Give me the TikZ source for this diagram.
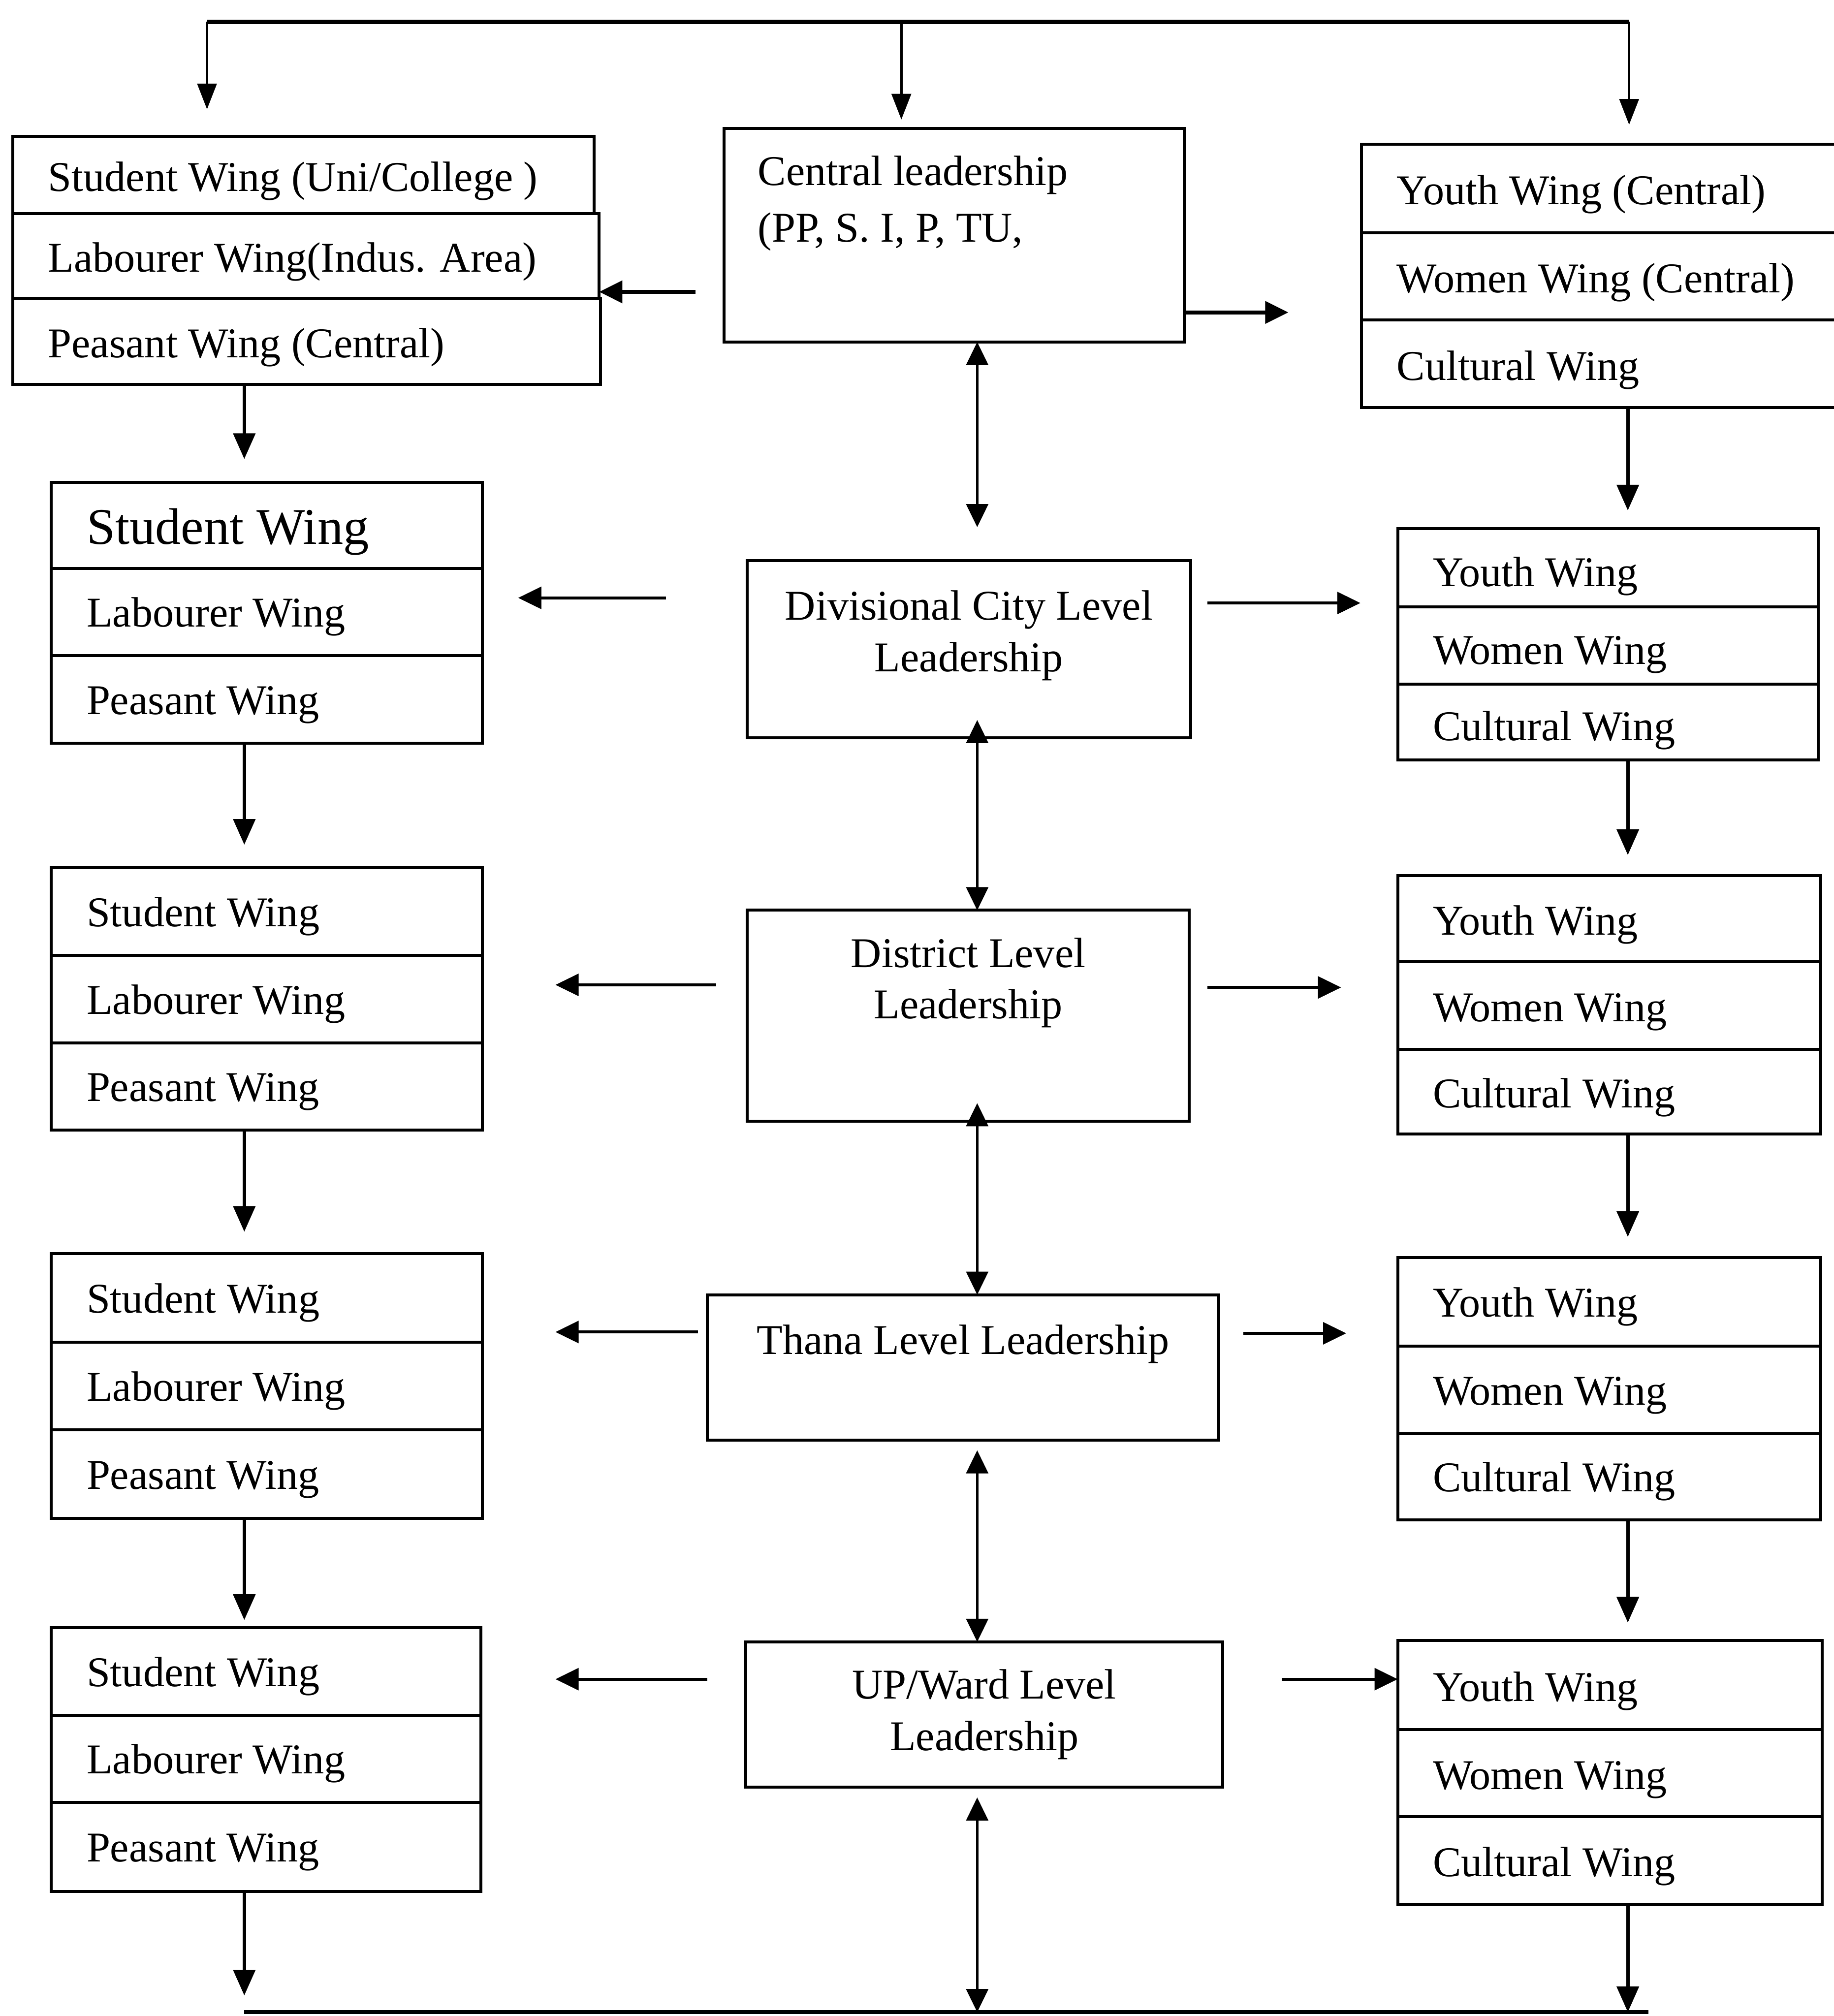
\documentclass[tikz,border=0pt]{standalone}
\usepackage{fontspec}
\setmainfont{Liberation Serif}
\usetikzlibrary{arrows.meta}
\tikzset{
  boxline/.style={draw, line width=1.15pt, inner sep=0pt, outer sep=0pt, anchor=north west},
  rtext/.style={font=\fontsize{16.5}{22}\selectfont, inner sep=0pt, text height=0.66em, text depth=0pt, anchor=west},
  ctext/.style={font=\fontsize{16.5}{20}\selectfont, inner sep=0pt, align=center, anchor=north},
  tip/.style={},
  arr/.style={line width=1.3pt, -{Triangle[length=10pt,width=8.5pt]}},
  tarr/.style={line width=1pt, -{Triangle[length=10pt,width=7.5pt]}},
  harr/.style={line width=1.1pt, -{Triangle[length=9pt,width=8.5pt]}},
  darr/.style={line width=1pt, {Triangle[length=9pt,width=8.5pt]}-{Triangle[length=9pt,width=8.5pt]}},
  thickline/.style={line width=1.6pt},
}
\newcommand\wrow[7][-2.5pt]{%
  \node[boxline, minimum width=(#5-#3)*0.5pt, minimum height=(#6-#4)*0.5pt] (#2) at (#3,#4) {};
  \node[rtext] (#2t) at ([xshift=13.5pt,yshift=#1]#2.west) {#7};
}
\newcommand\cbox[5]{%
  \node[boxline, minimum width=(#4-#2)*0.5pt, minimum height=(#5-#3)*0.5pt] (#1) at (#2,#3) {};
}
\begin{document}
\begin{tikzpicture}[x=0.5pt,y=-0.5pt]
\useasboundingbox (0,0) rectangle (1426,1568);

% ---------- top distribution line ----------
\coordinate (t1) at (161,17);
\coordinate (t2) at (701,17);
\coordinate (t3) at (1267,17);
\coordinate (t1e) at (161,85);
\coordinate (t2e) at (701,93);
\coordinate (t3e) at (1267,97);
\draw[thickline] (t1) -- (t3);
\draw[tarr] (t1) -- (t1e);
\draw[tarr] (t2) -- (t2e);
\draw[tarr] (t3) -- (t3e);

% ---------- level 0 ----------
\wrow[-3pt]{sw0}{10}{106}{462}{166}{Student Wing (Uni/College )}
\wrow[-3pt]{lw0}{10}{166}{466}{232}{Labourer Wing(Indus. Area)}
\wrow[-3pt]{pw0}{10}{232}{467}{299}{Peasant Wing (Central)}

\cbox{cl}{563}{100}{921}{266}
\node[font=\fontsize{16.5}{22}\selectfont, inner sep=0pt, align=left, anchor=north west]
  (clt) at ([xshift=13pt,yshift=-10.5pt]cl.north west) {Central leadership\\(PP, S. I, P, TU,};

\wrow[-3pt]{yw0}{1059}{112}{1440}{181}{Youth Wing (Central)}
\wrow[-3pt]{ww0}{1059}{181}{1440}{249}{Women Wing (Central)}
\wrow[-3pt]{cw0}{1059}{249}{1440}{317}{Cultural Wing}

\coordinate (clL) at (541,227);
\draw[harr, line width=1.5pt] (clL) -- (lw0.east |- clL);
\coordinate (clR) at (1002,243);
\draw[harr, line width=1.5pt] (cl.east |- clR) -- (clR);

\coordinate (d1) at (760,410);
\draw[darr] (cl.south -| d1) -- (d1);
\coordinate (la1) at (190,357);
\draw[arr] (pw0.south -| la1) -- (la1);
\coordinate (ra1) at (1266,397);
\draw[arr] (cw0.south -| ra1) -- (ra1);

% ---------- level 1 : divisional ----------
\node[boxline, minimum width=335*0.5pt, minimum height=67*0.5pt] (sw1) at (40,375) {};
\node[rtext, font=\fontsize{20}{24}\selectfont] (sw1t) at ([xshift=13.5pt,yshift=-4pt]sw1.west) {Student Wing};
\wrow{lw1}{40}{442}{375}{510}{Labourer Wing}
\wrow{pw1}{40}{510}{375}{578}{Peasant Wing}

\cbox{div}{581}{436}{926}{574}
\node[ctext] (divt) at ([yshift=-11.5pt]div.north) {Divisional City Level\\Leadership};

\wrow[-4pt]{yw1}{1087}{411}{1414}{472}{Youth Wing}
\wrow[-4pt]{ww1}{1087}{472}{1414}{532}{Women Wing}
\wrow[-4pt]{cw1}{1087}{532}{1414}{591}{Cultural Wing}

\coordinate (dvL1) at (518,465); \coordinate (dvL2) at (403,465);
\draw[harr] (dvL1) -- (dvL2);
\coordinate (dvR1) at (939,469); \coordinate (dvR2) at (1058,469);
\draw[harr] (dvR1) -- (dvR2);

\coordinate (d2) at (760,560);
\coordinate (la2) at (190,657);
\coordinate (ra2) at (1266,665);
\draw[arr] (pw1.south -| la2) -- (la2);
\draw[arr] (cw1.south -| ra2) -- (ra2);

% ---------- level 2 : district ----------
\wrow{sw2}{40}{675}{375}{743}{Student Wing}
\wrow{lw2}{40}{743}{375}{811}{Labourer Wing}
\wrow{pw2}{40}{811}{375}{879}{Peasant Wing}

\cbox{dist}{581}{708}{925}{872}
\node[ctext] (distt) at ([yshift=-10.5pt]dist.north) {District Level\\Leadership};
\draw[darr] (d2) -- (d2 |- dist.north);

\wrow[-3pt]{yw2}{1087}{681}{1416}{748}{Youth Wing}
\wrow[-3pt]{ww2}{1087}{748}{1416}{816}{Women Wing}
\wrow[-3pt]{cw2}{1087}{816}{1416}{882}{Cultural Wing}

\coordinate (dsL1) at (557,766); \coordinate (dsL2) at (432,766);
\draw[harr] (dsL1) -- (dsL2);
\coordinate (dsR1) at (939,768); \coordinate (dsR2) at (1043,768);
\draw[harr] (dsR1) -- (dsR2);

\coordinate (d3) at (760,858);
\coordinate (la3) at (190,958);
\coordinate (ra3) at (1266,962);
\draw[arr] (pw2.south -| la3) -- (la3);
\draw[arr] (cw2.south -| ra3) -- (ra3);

% ---------- level 3 : thana ----------
\wrow{sw3}{40}{975}{375}{1044}{Student Wing}
\wrow{lw3}{40}{1044}{375}{1112}{Labourer Wing}
\wrow{pw3}{40}{1112}{375}{1181}{Peasant Wing}

\cbox{thana}{550}{1007}{948}{1120}
\node[ctext] (thanat) at ([yshift=-11.5pt]thana.north) {Thana Level Leadership};
\draw[darr] (d3) -- (d3 |- thana.north);

\wrow{yw3}{1087}{978}{1416}{1047}{Youth Wing}
\wrow{ww3}{1087}{1047}{1416}{1115}{Women Wing}
\wrow{cw3}{1087}{1115}{1416}{1182}{Cultural Wing}

\coordinate (thL1) at (543,1036); \coordinate (thL2) at (432,1036);
\draw[harr] (thL1) -- (thL2);
\coordinate (thR1) at (967,1037); \coordinate (thR2) at (1047,1037);
\draw[harr] (thR1) -- (thR2);

\coordinate (d4) at (760,1128);
\coordinate (la4) at (190,1260);
\coordinate (ra4) at (1266,1262);
\draw[arr] (pw3.south -| la4) -- (la4);
\draw[arr] (cw3.south -| ra4) -- (ra4);

% ---------- level 4 : UP / ward ----------
\wrow{sw4}{40}{1266}{374}{1334}{Student Wing}
\wrow{lw4}{40}{1334}{374}{1402}{Labourer Wing}
\wrow{pw4}{40}{1402}{374}{1471}{Peasant Wing}

\cbox{up}{580}{1277}{951}{1390}
\node[ctext] (upt) at ([yshift=-10.5pt]up.north) {UP/Ward Level\\Leadership};
\draw[darr] (d4) -- (d4 |- up.north);

\wrow[-3pt]{yw4}{1087}{1276}{1417}{1345}{Youth Wing}
\wrow[-3pt]{ww4}{1087}{1345}{1417}{1413}{Women Wing}
\wrow[-3pt]{cw4}{1087}{1413}{1417}{1481}{Cultural Wing}

\coordinate (upL1) at (550,1306); \coordinate (upL2) at (432,1306);
\draw[harr] (upL1) -- (upL2);
\coordinate (upR1) at (997,1306);
\draw[harr] (upR1) -- (yw4.west |- upR1);

% ---------- bottom ----------
\coordinate (b1) at (190,1565);
\coordinate (b2) at (1282,1565);
\draw[thickline] (b1) -- (b2);
\coordinate (d5) at (760,1398);
\draw[darr] (d5) -- (d5 |- b1);
\coordinate (la5) at (190,1552);
\draw[arr] (pw4.south -| la5) -- (la5);
\coordinate (ra5) at (1266,1565);
\draw[arr] (cw4.south -| ra5) -- (ra5);
\end{tikzpicture}
\end{document}
